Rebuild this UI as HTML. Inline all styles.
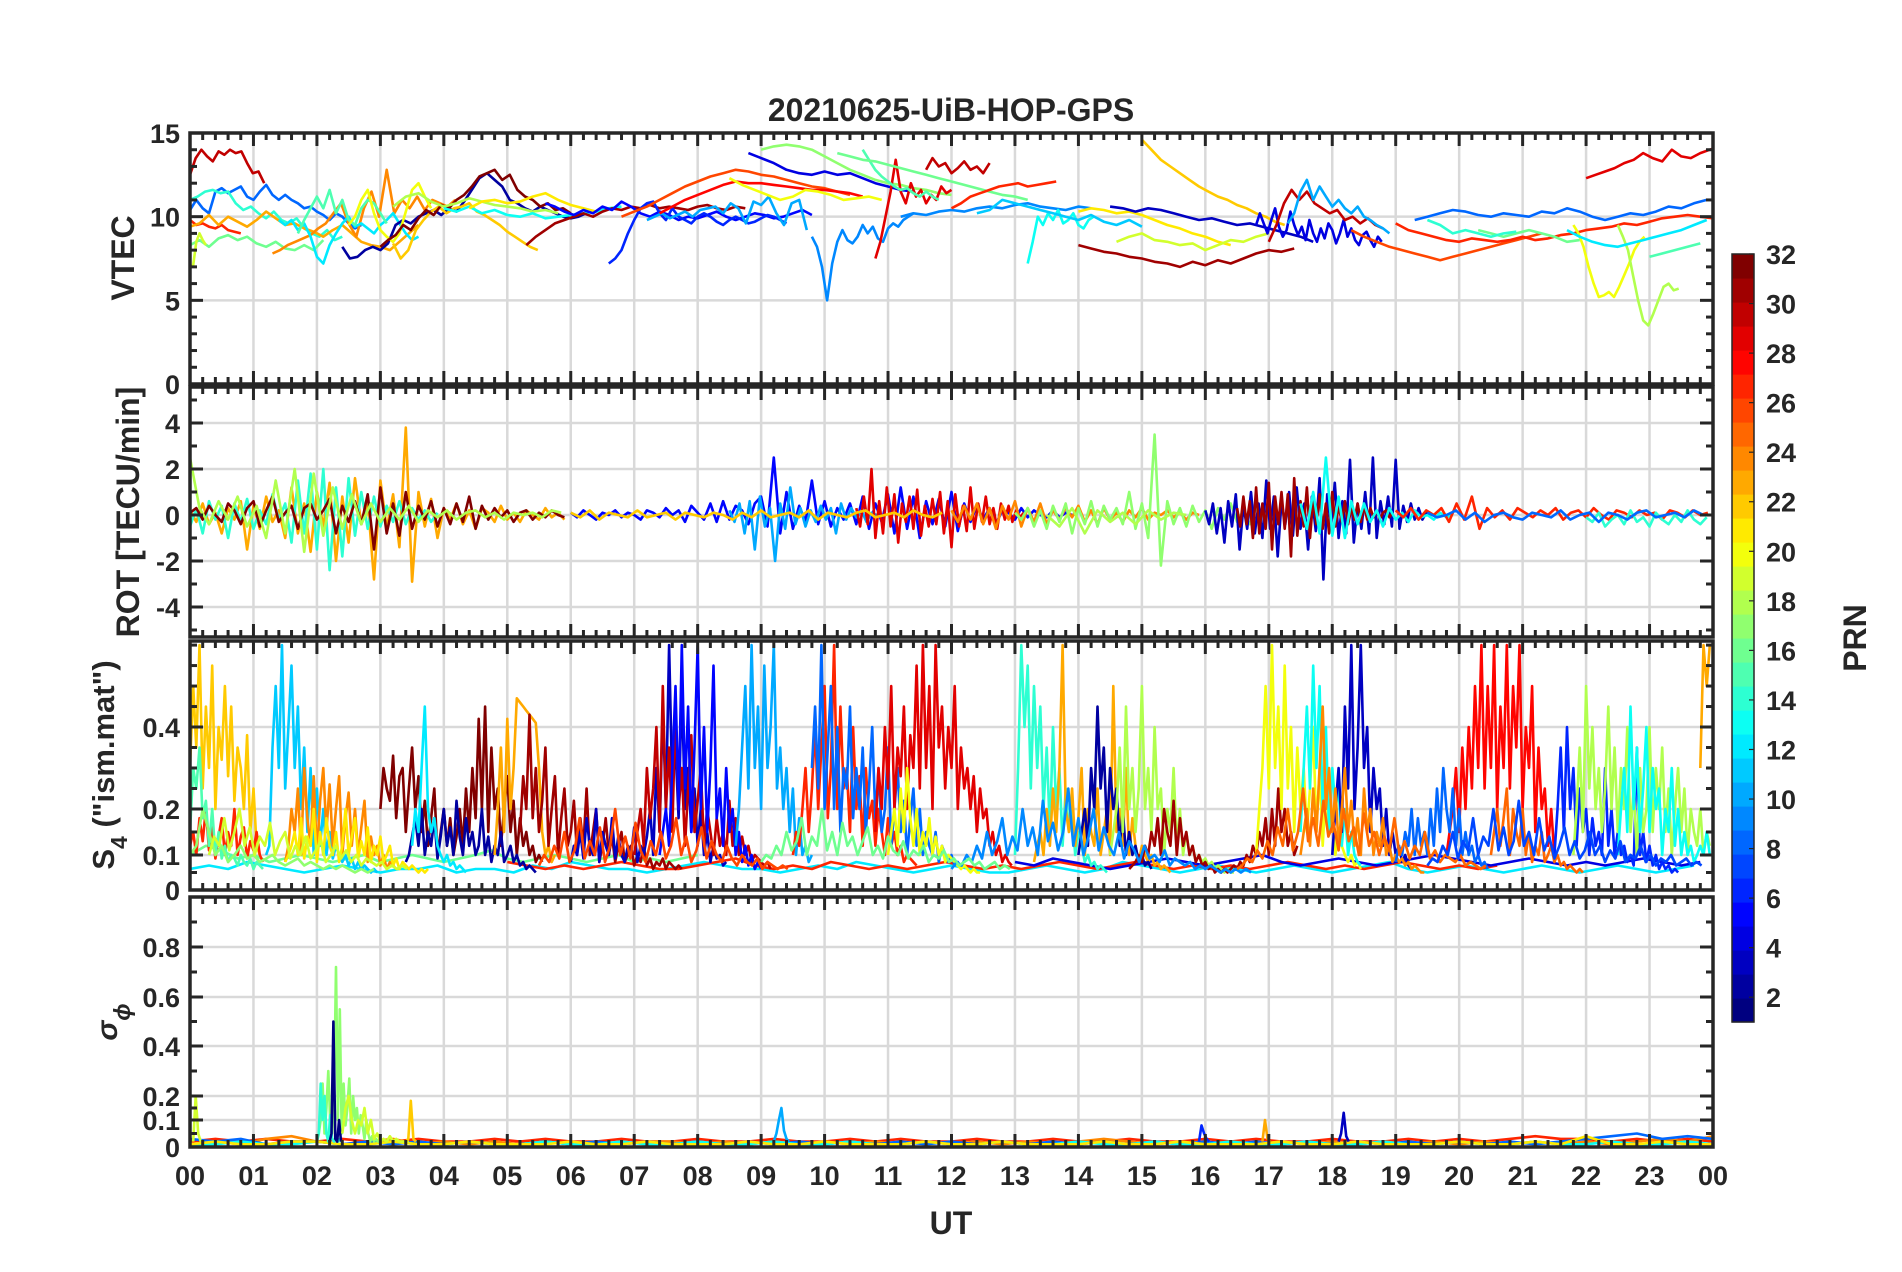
<!DOCTYPE html>
<html><head><meta charset="utf-8">
<style>
html,body{margin:0;padding:0;background:#fff;}
svg{display:block;}
text{font-family:"Liberation Sans",Arial,sans-serif;font-weight:bold;fill:#262626;}
</style></head>
<body>
<svg id="fig" width="1902" height="1272" viewBox="0 0 1902 1272" xmlns="http://www.w3.org/2000/svg">
<rect x="0" y="0" width="1902" height="1272" fill="#fff"/>
<text x="951" y="121" text-anchor="middle" font-size="32">20210625-UiB-HOP-GPS</text>
<text x="951" y="1234" text-anchor="middle" font-size="32">UT</text>
<text transform="translate(134,258) rotate(-90)" text-anchor="middle" font-size="32">VTEC</text>
<text transform="translate(139,512) rotate(-90)" text-anchor="middle" font-size="32">ROT [TECU/min]</text>
<text transform="translate(114,765) rotate(-90)" text-anchor="middle" font-size="31">S<tspan baseline-shift="sub" font-size="23">4</tspan> ("ism.mat")</text>
<text transform="translate(117,1022) rotate(-90)" text-anchor="middle" font-size="30" font-style="italic" font-weight="normal" font-family="Liberation Serif, serif">σ<tspan baseline-shift="sub" font-size="23">ϕ</tspan></text>
<text transform="translate(1866,638) rotate(-90)" text-anchor="middle" font-size="32">PRN</text>
</svg>
<script>
// ---------- VTEC data ----------
const vtecPrn=[30,8,14,16,19,27,23,24,12,15,2,20,22,32,18,13,21,31,5,6,10,26,28,20,17,4,9,9,29,30,15,16,27,13,11,22,31,21,3,19,4,30,10,8,26,27,29,20,18,12,15,16,14];
const vtecT0=[0,0,0,0,0,0,0,1.3,1.4,1.7,2.4,2.5,3.2,3.0,3.2,4.0,4.4,5.3,5.6,6.6,7.2,6.8,7.4,8.5,9.0,8.8,9.8,11.2,10.8,11.6,10.6,10.2,12.0,13.2,12.4,15.0,14.0,14.0,14.5,14.6,16.8,17.0,17.3,19.3,18.3,19.0,22.0,21.8,22.5,21.7,23.0,20.3,19.5];
const vtecDt=[0.09,0.1,0.12,0.15,0.05,0.1,0.15,0.12,0.1,0.1,0.12,0.1,0.12,0.12,0.2,0.2,0.2,0.15,0.15,0.1,0.12,0.2,0.2,0.2,0.2,0.2,0.08,0.2,0.08,0.1,0.1,0.2,0.15,0.08,0.2,0.15,0.2,0.2,0.2,0.2,0.06,0.12,0.1,0.2,0.2,0.2,0.15,0.08,0.08,0.2,0.2,0.2,0.2];
const vtecVals=[
[12.5,13.5,14.0,13.6,13.3,13.9,13.7,14.0,13.8,13.9,13.2,12.6,12.7,12.0],
[10.4,11.0,10.5,10.2,11.5,11.7,11.4,11.6,11.8,11.2,11.0,11.5,11.9,11.3,11.0,11.3,11.0,10.8,10.5,10.6,10.3,10.1,9.8,10.2,10.0,9.6,9.3,9.5],
[11.0,11.2,11.5,11.6,11.4,11.5,10.8,10.4,10.6,10.2,9.9,10.3,9.8,9.6,9.9,9.3,9.0,8.8,9.2,8.6,8.8],
[8.3,8.6,8.2,8.7,8.9,8.6,8.8,8.4,8.2,8.5,8.1,8.0,8.3,8.0,8.6],
[7.0,7.1,8.5,9.0,8.6,8.3],
[9.8,9.5,9.6,9.4,9.3,9.5,9.2,9.1,9.0],
[9.4,9.6,10.1,9.5,10.0,9.7,9.4,9.8,10.3,9.9,9.5,9.6,9.3,9.1,8.8,9.2,9.5,9.0,8.5,8.3,8.2,8.0,8.5,9.0,9.5],
[7.8,8.0,8.3,8.5,8.7,8.9,9.3,9.6,10.2,10.8,9.6,8.8,10.5,11.5,10.0,12.8,10.2,11.0,10.5,11.2,10.4,11.0,10.8,10.6,11.0],
[9.8,9.5,9.8,9.2,9.6,8.8,7.6,7.2,8.3,9.0,9.6,10.0,9.4,9.6,9.3,9.0,9.5,9.8,10.2,9.6,9.0,8.6,8.8],
[9.0,9.8,10.5,11.2,10.5,11.6,10.2,11.0,9.8,9.5,10.5,11.0,10.8,10.2,9.6],
[8.2,7.5,7.6,8.0,8.2,8.0,8.4,9.5,9.8,9.6,10.0,10.2,10.4,10.1,10.5,10.3,10.9,11.6,12.3,12.6,12.2,11.8,11.0,10.8,10.5,10.3,10.6,10.4,10.2,10.0,9.9,10.0,10.2],
[9.5,10.0,11.0,11.6,10.2,9.2,8.8,8.5,9.0,10.3,11.6,12.0,11.2,10.5],
[8.4,7.5,8.0,9.2,9.8,10.3,10.6,10.2,10.5,10.6,10.8,10.3,10.1,9.8,9.5,9.1,8.8,8.5,8.2,8.0],
[8.2,8.6,8.9,9.5,9.2,9.9,10.4,10.1,10.7,10.5,11.0,11.3,11.8,12.4,12.6,12.8,12.2,12.5,11.6,11.2,11.0,10.6,10.8,10.4,10.5,10.2],
[10.6,11.2,11.4,10.9,10.6,10.8,11.1,10.9,10.7,10.6,10.5,10.3,10.4,10.2],
[10.5,10.3,10.6,10.2,10.4,10.1,10.0,10.2,9.9,10.0,10.1,10.2,10.3,10.5,10.6],
[10.5,10.9,11.0,10.8,10.9,11.2,11.4,11.0,10.7,10.5,10.3],
[8.3,8.8,9.2,9.6,9.8,10.0,10.2,10.0,10.3,10.5,10.4,10.6,10.5,10.7,10.5,10.6,10.5,10.4,10.6,10.7,10.5,10.4,10.6,10.5],
[10.8,10.6,10.3,10.1,10.4,10.2,10.6,10.4,10.9,10.6,10.2,10.0,10.3,10.1,9.8,10.0,9.9,10.1,10.3,10.0,9.8,10.0,10.2,10.1,9.9,10.0,10.2,10.4,10.1],
[7.2,7.5,8.0,9.0,9.8,10.5,10.8,10.9,10.2,9.8,10.5,10.0,9.8,9.6,10.0,10.2,10.0,9.7,9.5,9.8,10.0,9.8,9.6,9.7,9.9,10.1,10.0,9.8,9.6],
[9.8,10.0,10.2,9.9,10.1,10.3,10.0,10.4,10.5,10.6,10.2,10.8,10.5,9.6,10.9,10.7,11.2,10.2,9.5,10.8,11.0,9.2],
[10.0,10.3,10.6,11.0,11.4,11.8,12.1,12.4,12.6,12.8,12.7,12.5,12.4,12.2,12.0,11.8,11.7,11.5,11.3],
[10.2,10.6,11.0,11.3,11.6,11.9,12.1,12.0,12.0,11.9,11.8,11.7,11.6,11.6,11.5,11.4,11.2],
[12.3,11.9,11.6,11.3,11.0,11.2,11.6,11.5,11.3,11.0,11.1,11.2,11.0],
[14.0,14.2,14.3,14.2,14.0,13.6,13.2,12.8,12.5,12.2,12.0,11.9,11.7,11.6,11.4,11.3],
[13.8,13.5,13.2,12.8,12.6,12.5,12.7,12.5,12.6,12.3,12.0,11.8,11.6,11.5],
[8.8,8.2,7.0,5.0,7.2,8.5,9.2,8.6,8.4,8.8,9.5,9.0,9.4,8.7,8.5,9.3,9.6,9.4,9.8,10.0,10.2],
[10.0,10.2,10.1,10.3,10.4,10.3,10.5,10.6,10.5,10.7,10.8,10.6,10.5,10.4,10.6,10.5],
[7.5,8.5,10.0,11.5,13.4,11.5,10.8,12.0,11.2,11.6,10.8,11.3,11.0,11.8,11.4,11.6],
[12.8,13.5,13.0,13.2,12.6,12.9,13.3,12.8,13.0,12.6,13.2],
[14.0,13.4,12.8,12.4,12.1,11.8,11.6,11.7,11.4,11.2,11.5,11.2,11.0],
[13.8,13.6,13.4,13.3,13.1,12.9,12.7,12.5,12.3,12.1,11.9,11.7,11.5,11.3,11.2,11.0],
[10.5,10.8,11.2,11.4,11.6,11.8,11.9,12.0,11.8,11.9,12.0,12.1],
[7.2,8.5,10.0,9.5,10.2,9.8,10.4,9.6,9.8,10.2,9.5,9.3,9.8,10.0],
[10.2,10.4,11.0,10.8,10.6,10.4,10.2,10.0,9.8,10.1,9.7,9.5,9.8,9.4],
[14.6,14.0,13.4,13.0,12.6,12.2,11.8,11.5,11.2,11.0,10.7,10.5,10.2,10.0,9.7,9.5],
[8.3,8.1,7.9,7.8,7.6,7.5,7.3,7.2,7.0,7.3,7.1,7.4,7.2,7.5,7.8,8.0,7.9,8.1],
[10.3,10.5,10.4,10.2,10.3,10.1,9.8,9.5,9.3,9.0,8.8,8.5,8.3],
[10.6,10.5,10.3,10.5,10.4,10.2,10.0,9.8,9.9,9.7,9.5,9.6,9.4,9.2,9.0,8.8,8.5],
[8.5,8.8,9.0,8.6,8.5,8.3,8.4,8.0,8.3,8.6,8.5,8.8,9.0],
[9.5,10.2,9.6,9.0,9.8,10.5,9.4,8.8,9.2,10.3,9.5,8.9,9.4,8.6,9.8,9.0,8.5,9.3,8.7,9.6,9.2,8.4,9.0,9.8,8.8,9.3,8.6,8.3,8.9,9.1,8.6,8.2,8.8,8.5],
[8.5,9.5,10.8,11.6,11.0,11.5,10.8,10.5,10.2,10.4,9.8,10.0,9.6,9.9,9.5,9.3],
[9.6,10.2,11.5,12.2,11.0,11.8,11.2,10.6,11.0,10.5,10.2,10.6,10.0,9.8,9.5,9.3,9.0],
[9.8,10.0,10.2,10.4,10.3,10.1,10.0,10.2,10.1,10.0,10.3,10.2,10.5,10.3,10.0,9.8,10.0,10.2,10.1,10.3,10.6,10.5,10.8,11.0],
[9.2,8.8,8.5,8.2,8.0,7.8,7.6,7.4,7.6,7.8,8.0,8.2,8.4,8.6,8.8,9.0],
[9.6,9.2,9.0,8.8,8.6,8.5,8.7,8.6,8.5,8.6,8.8,8.6,8.7,8.9,9.0,9.2,9.3,9.4,9.6,9.5,9.7,9.9,10.0,10.1,10.0,9.9],
[12.3,12.5,12.7,12.9,13.2,13.4,13.8,13.5,13.3,14.0,13.6,13.5,13.8,14.0,14.2],
[9.5,9.0,8.2,7.0,6.0,5.2,5.3,5.5,5.2,5.8,6.5,7.2,8.0,8.5,8.8],
[9.5,8.8,8.0,6.5,5.0,3.8,3.5,4.2,5.0,5.8,6.0,5.6,5.7],
[9.2,8.8,8.5,8.3,8.2,8.4,8.6,8.8,9.0,9.2,9.5,9.8],
[7.6,7.8,8.0,8.2,8.4],
[9.2,9.0,8.8,9.0,9.2,9.0,8.8,8.5,8.6],
[9.8,9.5,9.0,9.2,9.0,8.8,9.0,9.1]
];
// ---------- ROT data ----------
const rotPrn=[23,14,32,18,5,10,29,24,17,3,31,13,27,14,8,22,18];
const rotT0=[0,0,0,0,6,8.5,10.5,12,13,16,16.5,17.5,19,22,19.5,6,13.5];
const rotDt=[0.1,0.1,0.1,0.15,0.1,0.08,0.06,0.1,0.1,0.06,0.05,0.1,0.12,0.1,0.15,0.15,0.2];
const rotVals=[
[0.2,-0.3,0.5,-0.4,0.1,-0.8,0.3,-0.2,0.6,-1.5,0.4,-0.6,0.8,-0.3,0.2,-1.0,1.2,-0.8,0.5,-1.6,1.0,-0.5,1.4,-2.0,0.8,-1.2,1.6,-0.4,0.6,-2.8,1.5,-0.6,0.9,-1.4,3.8,-2.9,1.0,-0.5,0.7,-1.0,0.3,-0.2,0.5,-0.4,0.2,-0.6,0.3,0.1,-0.3,0.4,-0.2,0.1,-0.3,0.2,0.0,-0.2,0.3,-0.1,0.1,-0.2],
[-0.5,0.3,-0.8,0.6,-0.2,0.4,-1.0,0.5,-0.3,0.7,-0.6,0.2,-0.4,0.9,-0.2,0.5,-1.2,1.5,-0.8,1.8,-1.5,2.0,-2.4,1.2,-1.8,1.6,-0.9,1.0,-0.6,0.8,-0.5,0.4,-0.3,0.6,-0.4,0.3,-0.2,0.2,-0.3,0.1],
[0.1,0.3,-0.2,0.4,0.0,-0.3,0.5,0.2,-0.4,0.3,0.6,-0.5,0.2,0.8,-0.3,0.1,0.4,-0.6,0.3,0.5,-0.2,0.2,0.7,-0.8,0.4,-0.3,0.6,-0.4,0.9,-1.5,1.2,-0.8,0.5,-0.9,1.0,-0.6,0.4,-0.2,0.6,-0.5,0.3,-0.4,0.5,-0.3,0.8,-0.6,0.4,-0.2,0.3,-0.1,0.2,-0.3,0.1,0.2,-0.2,0.1,-0.1,0.2,0.0,-0.1],
[2.5,0.3,-0.4,0.6,-0.2,0.8,-0.5,0.4,-1.0,1.5,-0.8,2.0,-1.6,1.8,-0.9,1.2,-0.6,0.9,-0.4,0.5,-0.3,0.3,-0.2,0.4,-0.3,0.2,-0.1,0.2,-0.2,0.1,0.2,-0.1,0.1,-0.2,0.1,0.0,0.1,-0.1,0.2,0.1],
[0.1,-0.1,0.2,0.0,-0.2,0.1,0.0,0.2,-0.1,0.1,0.0,-0.2,0.2,0.1,-0.1,0.3,0.0,0.2,-0.3,0.4,0.1,-0.2,0.5,-0.3,0.6,-0.2,0.4,0.2,-0.4,0.5,0.8,-0.5,2.5,-0.8,1.0,-0.6,0.4,-0.3,1.5,-0.4,0.6,-0.5,0.3,-0.2,0.5,-0.4,0.8,-0.6,0.5,-0.3,0.9,-0.8,1.2,-0.6,0.8,-1.0,0.6,-0.4,0.7,-0.5,1.0,-0.7,0.5,-0.3,0.4,-0.2,0.3,-0.4,0.2,0.1,-0.2,0.3,-0.1,0.2,0.0,-0.1,0.2,-0.1,0.1,0.0],
[0.2,-0.3,0.5,-0.8,0.6,-1.5,0.8,-0.5,0.3,-2.0,0.5,-0.6,1.2,-0.4,0.3,-0.5,0.2,-0.3,0.4,-0.2,0.3,-0.8,0.5,-0.2,0.3,-0.1,0.2,-0.3,0.1,0.0],
[0.3,-0.5,0.8,-0.4,2.0,-1.0,0.6,-0.8,1.2,-0.5,0.9,-1.2,0.5,-0.3,0.8,-0.6,1.1,-0.9,0.4,-0.5,0.7,-0.4,1.0,-0.8,0.6,-1.4,0.9,-0.5,0.4,-0.7,1.2,-0.6,0.5,-0.3,0.8,-0.4,0.3,-0.6,0.5,-0.2,0.4,-0.3,0.2,-0.1,0.1],
[0.2,-0.3,0.4,-0.2,0.5,-0.4,0.3,-0.6,0.4,-0.2,0.6,-0.5,0.3,-0.3,0.5,-0.4,0.2,-0.2,0.3,-0.1,0.4,-0.3,0.2,-0.4,0.3,-0.2,0.1,-0.3,0.2,-0.1,0.3,-0.2,0.1,0.0,0.2,-0.1,0.1,-0.2,0.1,0.0],
[0.1,-0.2,0.3,-0.5,0.2,-0.6,0.4,-0.3,0.5,-0.8,0.3,-0.4,0.6,-0.5,0.4,-0.2,0.3,-0.4,1.0,-0.6,0.5,-1.0,3.5,-2.2,0.6,-0.4,0.3,-0.5,0.4,-0.3,0.2,-0.6,0.3,-0.2,0.5,-0.3,0.2,-0.4,0.3,-0.1],
[0.2,-0.4,0.5,-0.8,0.3,-1.2,0.6,-0.5,0.9,-1.5,0.4,-0.6,1.0,-0.8,0.5,-1.0,1.5,-0.6,0.8,-1.8,0.6,-0.4,1.0,-0.9,1.2,-0.6,0.5,-1.5,0.8,-0.7,1.6,-2.8,0.9,-0.5,1.4,-1.0,0.6,-0.8,2.4,-1.2,0.5,-0.6,1.0,-0.8,2.5,-1.0,0.6,-0.4,0.8,-0.5,2.4,-0.6,0.4,-0.3,0.5,-0.2,0.3,-0.2,0.1,0.0],
[0.3,-0.5,0.8,-0.4,0.6,-1.0,1.2,-0.8,0.5,-0.6,1.4,-1.5,0.8,-0.4,1.0,-0.6,0.9,-1.8,1.6,-0.9,0.6,-0.5,1.2,-1.0,0.7,-0.4,0.9,-0.6,0.5,-0.8,1.0,-0.5,0.4,-0.3,0.6,-0.4,0.3,-0.2,0.5,-0.3,0.4,-0.2,0.3,-0.1,0.2,-0.2,0.1,0.2,-0.1,0.1],
[0.5,-0.6,1.0,-0.8,2.5,-0.9,0.8,-1.0,0.6,-0.4,0.5,-0.3,0.2,-0.5,0.3,-0.2,0.1,-0.3,0.2,-0.1,0.0,-0.2,0.1,-0.1,0.0],
[0.2,-0.1,0.3,-0.2,0.2,0.0,0.3,-0.3,0.5,-0.2,0.8,-0.6,0.3,-0.1,0.2,-0.2,0.3,0.1,-0.1,0.2,0.0,0.3,-0.2,0.1,0.2,-0.1,0.3,0.0,-0.2,0.2,0.1,-0.1,0.2,0.0,0.1,-0.2,0.2,0.1,-0.1,0.2,0.0,0.1],
[-0.1,-0.3,0.1,-0.5,-0.2,0.0,-0.4,0.2,-0.3,-0.1,-0.5,0.1,-0.2,-0.4,0.0,-0.3,0.2,-0.2,-0.4,-0.1],
[0.1,-0.1,0.0,0.2,-0.2,0.1,-0.3,0.0,0.1,-0.1,-0.2,0.1,0.0,-0.1,0.2,-0.2,0.0,0.1,-0.3,0.1,0.0,-0.2,0.1,0.2,-0.1,0.0,0.1,-0.1,0.2,0.0],
[0.1,-0.1,0.2,-0.2,0.1,0.0,-0.1,0.2,-0.1,0.0,0.1,-0.2,0.1,0.0,-0.1,0.1,0.0,-0.2,0.1,-0.1,0.2,-0.1,0.0,0.1,-0.1,0.2,-0.2,0.1,0.0,-0.1,0.1,0.2,-0.1,0.0,0.1,-0.1,0.2,0.0,-0.1,0.1],
[0.0,-0.5,0.3,-0.8,0.2,-0.3,0.1,-0.4,0.2,-0.2,0.1,0.0]
];
// ---------- S4 data ----------
const s4Prn=[12,27,4,16,22,27,15,11,24,21,32,2,12,23,31,3,30,5,10,27,8,29,20,14,23,2,18,31,20,13,3,24,28,8,25,6,18,13,23,17,26,9,16,25,7,19];
const s4T0=[0,5,13,0,0,0,0,1.2,1.5,1.5,3.0,3.4,3.5,4.8,5.2,6.0,7.0,7.4,8.6,9.5,9.8,10.8,11.0,13.0,13.3,14.0,14.5,14.8,16.8,17.5,18.0,17.5,19.8,19.0,20.5,21.5,21.8,22.5,23.8,0,5.5,12.0,9.0,16.5,19.5,0.3];
const s4Dt=[0.3,0.3,0.3,0.25,0.05,0.05,0.05,0.05,0.05,0.05,0.05,0.05,0.05,0.05,0.05,0.05,0.05,0.05,0.05,0.05,0.05,0.05,0.05,0.05,0.05,0.05,0.05,0.05,0.05,0.05,0.05,0.05,0.05,0.05,0.05,0.05,0.05,0.05,0.05,0.1,0.08,0.08,0.08,0.08,0.08,0.08];
const s4Vals=[
[0.06,0.07,0.06,0.08,0.07,0.06,0.05,0.06,0.07,0.06,0.05,0.06,0.06,0.07,0.05,0.06,0.06,0.05,0.07,0.06,0.08,0.07,0.06,0.06,0.05,0.06,0.07,0.08,0.07,0.06,0.06,0.05,0.06,0.07,0.06,0.08,0.07,0.06,0.05,0.06,0.07,0.06,0.05,0.05,0.06,0.07,0.06,0.05,0.06,0.08,0.07,0.06,0.05,0.06,0.07,0.06,0.05,0.06,0.07,0.06,0.05,0.06,0.07,0.08,0.06,0.05,0.06,0.07,0.06,0.05,0.06,0.07,0.06,0.05,0.06,0.07,0.06,0.05,0.06,0.07],
[0.08,0.07,0.06,0.07,0.06,0.07,0.08,0.07,0.06,0.06,0.07,0.08,0.09,0.07,0.06,0.07,0.06,0.08,0.07,0.06,0.07,0.06,0.07,0.08,0.07,0.06,0.07,0.06,0.07,0.08,0.07,0.06,0.07,0.08,0.07,0.06,0.07,0.06,0.07,0.06,0.07,0.08,0.07,0.06,0.07,0.06,0.07,0.08,0.07,0.06,0.07,0.06,0.07],
[0.08,0.07,0.09,0.08,0.07,0.06,0.07,0.08,0.09,0.08,0.07,0.08,0.09,0.1,0.08,0.07,0.08,0.09,0.08,0.07,0.08,0.09,0.1,0.09,0.08,0.07,0.08,0.09,0.08,0.07,0.08,0.07,0.08,0.09,0.08,0.07,0.08],
[0.1,0.12,0.11,0.09,0.1,0.08,0.09,0.1,0.09,0.08,0.09,0.1,0.08,0.09,0.1,0.09,0.08,0.09,0.1,0.11,0.09,0.08,0.09,0.1,0.09,0.08,0.09,0.1,0.08,0.09,0.08,0.09,0.1],
[0.3,0.5,0.35,0.6,0.25,0.45,0.3,0.55,0.2,0.4,0.32,0.5,0.28,0.45,0.22,0.35,0.3,0.2,0.38,0.15,0.25,0.12,0.1],
[0.12,0.15,0.1,0.18,0.13,0.2,0.11,0.16,0.09,0.14,0.18,0.1,0.15,0.12,0.2,0.1,0.14,0.16,0.09,0.13,0.11,0.15,0.1,0.08],
[0.15,0.3,0.25,0.35,0.18,0.22,0.12,0.2,0.1,0.15,0.09,0.12,0.08,0.1,0.09,0.07,0.1,0.08,0.07,0.09,0.06,0.08,0.07,0.06],
[0.1,0.12,0.35,0.5,0.3,0.6,0.25,0.4,0.55,0.3,0.45,0.2,0.35,0.15,0.3,0.1,0.25,0.12,0.2,0.1,0.15,0.09,0.12,0.1,0.08,0.1,0.07,0.09,0.06,0.08,0.06,0.07,0.06,0.05,0.06,0.05],
[0.08,0.12,0.2,0.15,0.25,0.1,0.3,0.18,0.12,0.28,0.1,0.22,0.3,0.15,0.26,0.12,0.2,0.28,0.1,0.18,0.24,0.12,0.2,0.1,0.16,0.22,0.08,0.14,0.1,0.12,0.07,0.1,0.06,0.08,0.07,0.06],
[0.08,0.1,0.12,0.15,0.1,0.18,0.09,0.14,0.12,0.2,0.08,0.15,0.1,0.18,0.12,0.1,0.15,0.08,0.12,0.2,0.1,0.14,0.18,0.09,0.13,0.1,0.16,0.08,0.12,0.1,0.14,0.08,0.1,0.12,0.07,0.09,0.06,0.08,0.07,0.06,0.07,0.06,0.05,0.06,0.05,0.06],
[0.2,0.3,0.25,0.22,0.33,0.18,0.28,0.3,0.15,0.25,0.35,0.2,0.28,0.15,0.22,0.12,0.18,0.25,0.1,0.15,0.2,0.12,0.18,0.1,0.14,0.2,0.12,0.25,0.15,0.3,0.18,0.42,0.2,0.45,0.15,0.35,0.2,0.25,0.12,0.2,0.28,0.15,0.22,0.1,0.18,0.12,0.15,0.1,0.12,0.08,0.1,0.08],
[0.08,0.1,0.14,0.18,0.12,0.2,0.1,0.15,0.12,0.18,0.09,0.14,0.2,0.12,0.16,0.1,0.22,0.14,0.1,0.18,0.12,0.15,0.1,0.12,0.2,0.1,0.14,0.08,0.12,0.1,0.15,0.08,0.1,0.12,0.08,0.1,0.07,0.08,0.06,0.07,0.06,0.05],
[0.12,0.2,0.15,0.3,0.45,0.2,0.15,0.18,0.12,0.1,0.08,0.1,0.07,0.08,0.06,0.07,0.06,0.05],
[0.1,0.2,0.35,0.15,0.42,0.2,0.3,0.47,0.46,0.45,0.44,0.43,0.42,0.41,0.3,0.15,0.1,0.12,0.08,0.1],
[0.15,0.28,0.2,0.43,0.18,0.3,0.15,0.22,0.35,0.12,0.2,0.28,0.1,0.18,0.25,0.12,0.15,0.22,0.1,0.18,0.12,0.25,0.1,0.15,0.2,0.08,0.12,0.18,0.1,0.14,0.08,0.12,0.15,0.08,0.1,0.12,0.07,0.1,0.08,0.12,0.07,0.09,0.06,0.08,0.07,0.09,0.06,0.08,0.07,0.06,0.07,0.06],
[0.08,0.12,0.1,0.15,0.09,0.18,0.12,0.1,0.2,0.08,0.15,0.12,0.1,0.18,0.09,0.14,0.1,0.08,0.12,0.1,0.16,0.08,0.12,0.1,0.14,0.2,0.1,0.3,0.15,0.45,0.2,0.6,0.25,0.35,0.18,0.5,0.2,0.3,0.15,0.25,0.12,0.2,0.1,0.15,0.08,0.12,0.09,0.1,0.07,0.08],
[0.1,0.15,0.2,0.12,0.3,0.18,0.25,0.4,0.15,0.5,0.2,0.35,0.15,0.45,0.2,0.3,0.12,0.25,0.38,0.15,0.22,0.3,0.12,0.2,0.15,0.1,0.18,0.12,0.15,0.1,0.22,0.12,0.18,0.1,0.14,0.1,0.12,0.08,0.1,0.09,0.08,0.07,0.08,0.06],
[0.1,0.15,0.2,0.12,0.3,0.5,0.2,0.6,0.25,0.45,0.15,0.35,0.6,0.2,0.4,0.15,0.3,0.55,0.18,0.25,0.12,0.3,0.15,0.2,0.1,0.15,0.08,0.12,0.07,0.1,0.06,0.08,0.06],
[0.12,0.2,0.35,0.5,0.25,0.6,0.3,0.45,0.2,0.55,0.3,0.4,0.6,0.25,0.35,0.2,0.3,0.15,0.25,0.1,0.18,0.1,0.12,0.08,0.1],
[0.1,0.15,0.12,0.2,0.3,0.15,0.25,0.4,0.2,0.35,0.5,0.18,0.3,0.6,0.2,0.45,0.25,0.3,0.15,0.4,0.2,0.28,0.12,0.3,0.18,0.22,0.12,0.2,0.15,0.1,0.18,0.12,0.15,0.1,0.12,0.08,0.1,0.09,0.08,0.07],
[0.3,0.45,0.25,0.6,0.2,0.35,0.5,0.2,0.4,0.15,0.3,0.25,0.45,0.18,0.3,0.2,0.35,0.15,0.25,0.4,0.18,0.3,0.15,0.2,0.35,0.12,0.2,0.3,0.15,0.22,0.1,0.18,0.25,0.12,0.2,0.1,0.15,0.12,0.1,0.15,0.08,0.12,0.1,0.08,0.1,0.07,0.08,0.06],
[0.15,0.3,0.2,0.4,0.25,0.5,0.2,0.35,0.28,0.45,0.2,0.38,0.3,0.55,0.25,0.6,0.3,0.5,0.2,0.6,0.35,0.45,0.25,0.4,0.3,0.5,0.2,0.35,0.25,0.3,0.2,0.28,0.15,0.25,0.18,0.2,0.12,0.15,0.1,0.12,0.08,0.1,0.08,0.07],
[0.1,0.15,0.2,0.12,0.25,0.15,0.3,0.18,0.12,0.2,0.1,0.15,0.12,0.18,0.1,0.14,0.1,0.12,0.08,0.1,0.09,0.08,0.07,0.06,0.07,0.06,0.05,0.06,0.05,0.05],
[0.1,0.3,0.6,0.4,0.55,0.25,0.5,0.3,0.45,0.2,0.35,0.15,0.4,0.2,0.3,0.12,0.25,0.15,0.2,0.1,0.15,0.12,0.08,0.1,0.07,0.08,0.06,0.07,0.06,0.05],
[0.08,0.12,0.15,0.1,0.2,0.12,0.25,0.15,0.3,0.6,0.2,0.15,0.25,0.12,0.18,0.3,0.1,0.2,0.15,0.12,0.25,0.1,0.15,0.2,0.1,0.5,0.15,0.2,0.12,0.3,0.1,0.18,0.12,0.08,0.12,0.1,0.08,0.1,0.07,0.08,0.06,0.07,0.06,0.05],
[0.1,0.15,0.2,0.12,0.3,0.2,0.45,0.25,0.35,0.15,0.3,0.2,0.25,0.12,0.2,0.1,0.15,0.1,0.12,0.08,0.1,0.07,0.08,0.06],
[0.1,0.15,0.2,0.35,0.15,0.45,0.2,0.3,0.15,0.25,0.5,0.2,0.3,0.15,0.4,0.2,0.25,0.1,0.2,0.15,0.3,0.12,0.2,0.1,0.15,0.1,0.12,0.08,0.1,0.08,0.09,0.07,0.08,0.06,0.07,0.06,0.05,0.06,0.05,0.05],
[0.06,0.07,0.08,0.1,0.08,0.12,0.1,0.15,0.12,0.18,0.1,0.2,0.15,0.12,0.22,0.1,0.18,0.12,0.15,0.1,0.12,0.08,0.1,0.07,0.08,0.06,0.07,0.05,0.06,0.05,0.06,0.05,0.06,0.07,0.06,0.08,0.07,0.1,0.08,0.12,0.1,0.15,0.12,0.18,0.1,0.2,0.12,0.25,0.15,0.2,0.12,0.15,0.1,0.12],
[0.1,0.2,0.3,0.5,0.25,0.6,0.3,0.45,0.2,0.55,0.25,0.4,0.15,0.35,0.2,0.3,0.15,0.25,0.4,0.15,0.3,0.12,0.25,0.15,0.2,0.1,0.15,0.12,0.1,0.08,0.1,0.07,0.08,0.06],
[0.15,0.3,0.45,0.25,0.55,0.3,0.5,0.2,0.4,0.15,0.3,0.2,0.25,0.12,0.2,0.1,0.15,0.1,0.08,0.07],
[0.1,0.2,0.3,0.15,0.45,0.25,0.6,0.2,0.35,0.6,0.3,0.4,0.15,0.3,0.2,0.25,0.12,0.2,0.1,0.15,0.1,0.12,0.08,0.1,0.07,0.06],
[0.1,0.15,0.2,0.12,0.25,0.15,0.3,0.45,0.2,0.3,0.15,0.25,0.12,0.2,0.3,0.15,0.22,0.12,0.18,0.1,0.25,0.15,0.2,0.1,0.15,0.12,0.18,0.1,0.12,0.08,0.1,0.08,0.09,0.07,0.08,0.06,0.07,0.06,0.05,0.05],
[0.1,0.15,0.2,0.3,0.15,0.35,0.2,0.4,0.25,0.5,0.3,0.6,0.25,0.5,0.3,0.6,0.2,0.45,0.3,0.6,0.25,0.5,0.35,0.6,0.2,0.4,0.3,0.5,0.15,0.35,0.2,0.25,0.12,0.2,0.1],
[0.08,0.12,0.1,0.15,0.12,0.2,0.1,0.18,0.12,0.15,0.1,0.2,0.12,0.25,0.15,0.3,0.2,0.15,0.25,0.12,0.2,0.1,0.15,0.1,0.12,0.08,0.1,0.07,0.08,0.06],
[0.1,0.15,0.2,0.12,0.18,0.25,0.1,0.2,0.15,0.12,0.2,0.1,0.15,0.08,0.12,0.1,0.15,0.08,0.1,0.12,0.08,0.1,0.07,0.08,0.06,0.07,0.06,0.05,0.06,0.05],
[0.1,0.2,0.35,0.15,0.4,0.2,0.3,0.12,0.25,0.15,0.2,0.1,0.18,0.12,0.15,0.1,0.3,0.12,0.2,0.1,0.15,0.1,0.12,0.08,0.1,0.07,0.35,0.1,0.15,0.08,0.12,0.07,0.1,0.06,0.08,0.06,0.07,0.05,0.06,0.05],
[0.1,0.2,0.35,0.15,0.5,0.25,0.4,0.2,0.3,0.15,0.25,0.45,0.2,0.35,0.15,0.3,0.2,0.4,0.15,0.25,0.1,0.3,0.15,0.2,0.4,0.15,0.3,0.2,0.35,0.15,0.25,0.1,0.2,0.3,0.15,0.25,0.1,0.2,0.15,0.12,0.2,0.1,0.15,0.12],
[0.1,0.2,0.3,0.15,0.45,0.2,0.35,0.15,0.25,0.4,0.15,0.3,0.2,0.25,0.1,0.2,0.15,0.3,0.12,0.2,0.1,0.15,0.1,0.12,0.08,0.1,0.12,0.1,0.15,0.1],
[0.3,0.6,0.5,0.6,0.6],
[0.1,0.12,0.2,0.15,0.1,0.12,0.08,0.1,0.12,0.09,0.1,0.08,0.09,0.1,0.08,0.07,0.08,0.09,0.07,0.08,0.07,0.06,0.07,0.06,0.07,0.06,0.05,0.06,0.05,0.06],
[0.07,0.1,0.08,0.12,0.09,0.15,0.08,0.11,0.18,0.09,0.13,0.1,0.16,0.08,0.12,0.2,0.1,0.14,0.09,0.17,0.11,0.08,0.13,0.1,0.15,0.09,0.12,0.18,0.1,0.14,0.08,0.11,0.16,0.09,0.13,0.1,0.08,0.12,0.09,0.07,0.1,0.08,0.07,0.09,0.06,0.08,0.07,0.06,0.07,0.06],
[0.06,0.08,0.07,0.1,0.08,0.12,0.09,0.15,0.1,0.13,0.18,0.1,0.14,0.11,0.2,0.12,0.16,0.1,0.22,0.13,0.17,0.11,0.15,0.25,0.12,0.18,0.1,0.14,0.2,0.11,0.16,0.12,0.1,0.15,0.09,0.13,0.11,0.08,0.12,0.09,0.1,0.08,0.11,0.07,0.09,0.08,0.07,0.08,0.06,0.07,0.06,0.07,0.06,0.05,0.06,0.05,0.06,0.05,0.06,0.05],
[0.08,0.1,0.09,0.12,0.1,0.15,0.11,0.13,0.18,0.1,0.14,0.12,0.2,0.11,0.15,0.1,0.17,0.12,0.14,0.1,0.13,0.16,0.1,0.12,0.09,0.14,0.11,0.1,0.13,0.09,0.11,0.1,0.12,0.08,0.1,0.09,0.11,0.08,0.09,0.07,0.08,0.09,0.07,0.08,0.06,0.07,0.08,0.06,0.07,0.06],
[0.06,0.07,0.09,0.08,0.11,0.09,0.13,0.1,0.16,0.12,0.2,0.11,0.15,0.25,0.13,0.18,0.12,0.22,0.14,0.17,0.11,0.2,0.13,0.16,0.1,0.19,0.12,0.15,0.1,0.14,0.11,0.18,0.1,0.13,0.09,0.12,0.1,0.15,0.09,0.11,0.08,0.1,0.09,0.08,0.1,0.07,0.08,0.07,0.06,0.07],
[0.07,0.09,0.08,0.12,0.1,0.15,0.09,0.13,0.11,0.18,0.1,0.14,0.12,0.2,0.11,0.16,0.1,0.13,0.22,0.12,0.15,0.1,0.18,0.11,0.14,0.09,0.12,0.16,0.1,0.13,0.09,0.11,0.15,0.1,0.12,0.08,0.11,0.09,0.13,0.08,0.1,0.09,0.12,0.08,0.1,0.07,0.09,0.08,0.1,0.07,0.08,0.09,0.07,0.08,0.07],
[0.1,0.14,0.12,0.18,0.11,0.15,0.2,0.12,0.16,0.1,0.14,0.12,0.17,0.1,0.13,0.15,0.09,0.12,0.1,0.14,0.09,0.11,0.13,0.08,0.1,0.12,0.09,0.11,0.08,0.1,0.07,0.09,0.08,0.07,0.08,0.06,0.07,0.06,0.07,0.06]
];
// ---------- sigma-phi data ----------
const sigPrn=[27,24,8,13,21,17,14,1,19,19,22,10,6,3,23];
const sigT0=[0,0,0,0,0,2.0,2.0,2.2,2.4,0.05,3.4,9.2,15.9,18.1,16.9];
const sigDt=[0.4,0.4,0.4,0.4,0.4,0.03,0.03,0.03,0.05,0.04,0.04,0.04,0.04,0.04,0.04];
const sigVals=[
[0.02,0.03,0.02,0.03,0.02,0.02,0.03,0.02,0.02,0.03,0.02,0.02,0.03,0.02,0.03,0.02,0.02,0.03,0.02,0.02,0.03,0.02,0.02,0.03,0.02,0.02,0.03,0.02,0.03,0.02,0.02,0.03,0.02,0.02,0.03,0.02,0.02,0.03,0.02,0.02,0.03,0.02,0.03,0.02,0.02,0.03,0.02,0.02,0.03,0.02,0.03,0.02,0.03,0.04,0.03,0.03,0.02,0.03,0.02,0.03,0.02],
[0.01,0.02,0.01,0.03,0.04,0.02,0.01,0.02,0.03,0.01,0.02,0.01,0.02,0.01,0.02,0.01,0.02,0.01,0.02,0.02,0.01,0.02,0.01,0.02,0.01,0.02,0.01,0.02,0.01,0.02,0.01,0.02,0.01,0.02,0.01,0.02,0.03,0.02,0.01,0.02,0.01,0.02,0.01,0.02,0.01,0.02,0.01,0.02,0.01,0.02,0.01,0.02,0.01,0.02,0.01,0.02,0.01,0.02,0.03,0.02,0.04],
[0.03,0.02,0.03,0.01,0.02,0.02,0.01,0.02,0.01,0.02,0.01,0.02,0.01,0.01,0.02,0.01,0.02,0.01,0.02,0.01,0.02,0.01,0.02,0.01,0.02,0.01,0.02,0.01,0.02,0.01,0.02,0.01,0.02,0.01,0.02,0.01,0.02,0.01,0.02,0.01,0.02,0.01,0.02,0.01,0.02,0.01,0.02,0.01,0.02,0.01,0.02,0.01,0.02,0.01,0.02,0.03,0.04,0.05,0.03,0.04,0.03],
[0.01,0.01,0.02,0.01,0.01,0.02,0.01,0.01,0.02,0.01,0.01,0.02,0.01,0.01,0.02,0.01,0.01,0.02,0.01,0.01,0.02,0.01,0.01,0.02,0.01,0.01,0.02,0.01,0.01,0.02,0.01,0.01,0.02,0.01,0.01,0.02,0.01,0.01,0.02,0.01,0.01,0.02,0.01,0.01,0.02,0.01,0.01,0.02,0.01,0.01,0.02,0.01,0.01,0.02,0.01,0.01,0.02,0.01,0.01,0.02,0.01],
[0.01,0.02,0.01,0.01,0.02,0.02,0.01,0.01,0.02,0.01,0.01,0.02,0.01,0.01,0.01,0.02,0.01,0.01,0.02,0.01,0.01,0.01,0.02,0.01,0.01,0.02,0.01,0.01,0.01,0.02,0.01,0.01,0.02,0.01,0.01,0.01,0.02,0.01,0.01,0.02,0.01,0.01,0.01,0.02,0.01,0.01,0.02,0.01,0.01,0.01,0.02,0.01,0.01,0.02,0.01,0.04,0.01,0.01,0.02,0.01,0.01],
[0.02,0.05,0.1,0.25,0.05,0.15,0.3,0.1,0.05,0.2,0.72,0.1,0.55,0.05,0.25,0.08,0.15,0.27,0.05,0.2,0.1,0.15,0.05,0.12,0.08,0.03,0.1,0.05,0.02,0.04,0.02,0.03,0.02,0.02],
[0.02,0.05,0.25,0.1,0.2,0.05,0.02,0.12,0.03,0.02,0.04,0.02,0.03,0.02],
[0.02,0.05,0.5,0.03,0.02,0.1,0.02],
[0.05,0.15,0.2,0.1,0.05,0.1,0.08,0.15,0.05,0.1,0.03,0.05,0.02,0.03,0.02,0.04,0.02,0.03,0.02,0.02,0.02,0.02],
[0.02,0.2,0.05,0.02],
[0.02,0.03,0.18,0.03,0.02],
[0.02,0.05,0.1,0.15,0.06,0.03,0.02],
[0.02,0.08,0.05,0.03,0.02],
[0.02,0.05,0.13,0.04,0.02],
[0.02,0.1,0.03,0.02]
];
// ---------- colorbar ----------
const cbTicks=[2,4,6,8,10,12,14,16,18,20,22,24,26,28,30,32];
const hourLabels=["00","01","02","03","04","05","06","07","08","09","10","11","12","13","14","15","16","17","18","19","20","21","22","23","00"];

const NS='http://www.w3.org/2000/svg';
const svg=document.getElementById('fig');
const X0=190,X1=1713;
function xS(t){return X0+t*(X1-X0)/24;}
function jet(p){const v=(p-1)/31;const c=x=>Math.round(255*Math.max(0,Math.min(1,x)));
 return 'rgb('+c(1.5-Math.abs(4*v-3))+','+c(1.5-Math.abs(4*v-2))+','+c(1.5-Math.abs(4*v-1))+')';}
function interp(kv,kp){return function(v){for(let i=0;i<kv.length-1;i++){if(v<=kv[i+1]||i===kv.length-2){const f=(v-kv[i])/(kv[i+1]-kv[i]);return kp[i]+f*(kp[i+1]-kp[i]);}}};}
function mk(tag,attrs,parent){const e=document.createElementNS(NS,tag);for(const k in attrs)e.setAttribute(k,attrs[k]);(parent||svg).appendChild(e);return e;}

const panels=[
 {key:'vtec',top:133,bot:384,y:v=>384-v*(251/15),labels:[0,5,10,15],minor:[1,2,3,4,6,7,8,9,11,12,13,14],prn:vtecPrn,t0:vtecT0,dt:vtecDt,vals:vtecVals},
 {key:'rot',top:387,bot:637,y:v=>515-v*23,labels:[-4,-2,0,2,4],minor:[-5,-3,-1,1,3,5],prn:rotPrn,t0:rotT0,dt:rotDt,vals:rotVals},
 {key:'s4',top:641,bot:890,y:interp([0,0.1,0.2,0.4,0.61],[890,855,809,727,641]),labels:[0,0.1,0.2,0.4],minor:[0.05,0.15,0.25,0.3,0.35,0.45,0.5,0.55,0.6],prn:s4Prn,t0:s4T0,dt:s4Dt,vals:s4Vals},
 {key:'sigma',top:897,bot:1147,y:interp([0,0.1,0.2,0.4,0.6,0.8,1.0],[1147,1120,1096,1046,997,947,897]),labels:[0,0.1,0.2,0.4,0.6,0.8],minor:[0.05,0.15,0.3,0.5,0.7,0.9],prn:sigPrn,t0:sigT0,dt:sigDt,vals:sigVals}
];
const defs=mk('defs',{});
panels.forEach((P,pi)=>{
 const g=mk('g',{});
 
 
 const cp=mk('clipPath',{id:'clip'+pi},defs);
 mk('rect',{x:X0,y:P.top,width:X1-X0,height:P.bot-P.top},cp);
 for(let h=1;h<24;h++){const l=mk('line',{x1:xS(h),x2:xS(h),y1:P.top,y2:P.bot,stroke:'#d9d9d9','stroke-width':2.5},g);
  
  }
 P.labels.forEach(v=>{const y=P.y(v);if(y>P.top+2&&y<P.bot-2){const l=mk('line',{x1:X0,x2:X1,y1:y,y2:y,stroke:'#d9d9d9','stroke-width':2.5},g);
  
  }});
 const sg=mk('g',{'clip-path':'url(#clip'+pi+')'},g);
 
 
 P.vals.forEach((arr,i)=>{let d='';arr.forEach((v,j)=>{d+=(j?'L':'M')+xS(P.t0[i]+j*P.dt[i]).toFixed(1)+','+P.y(v).toFixed(1);});
  const p=mk('path',{d:d,fill:'none',stroke:jet(P.prn[i]),'stroke-width':2.6,'stroke-linejoin':'round'},sg);
  
  });
 const tk=mk('g',{stroke:'#262626','stroke-width':3},g);
 
 
 for(let m=0;m<=120;m++){const x=xS(m/5);const L=(m%5===0)?13:7;
  mk('line',{x1:x,x2:x,y1:P.top,y2:P.top+L},tk);mk('line',{x1:x,x2:x,y1:P.bot,y2:P.bot-L},tk);}
 P.labels.forEach(v=>{const y=P.y(v);mk('line',{x1:X0,x2:X0+13,y1:y,y2:y},tk);mk('line',{x1:X1,x2:X1-13,y1:y,y2:y},tk);
  const t=mk('text',{x:180,y:y+10,'text-anchor':'end','font-size':27},g);t.textContent=String(v);
  
  });
 P.minor.forEach(v=>{const y=P.y(v);if(y>=P.top&&y<=P.bot){mk('line',{x1:X0,x2:X0+7,y1:y,y2:y},tk);mk('line',{x1:X1,x2:X1-7,y1:y,y2:y},tk);}});
 const fr=mk('rect',{x:X0,y:P.top,width:X1-X0,height:P.bot-P.top,fill:'none',stroke:'#262626','stroke-width':3.5},g);
 
 
});
hourLabels.forEach((s,h)=>{const t=mk('text',{x:xS(h),y:1185,'text-anchor':'middle','font-size':27});t.textContent=s;
 
 });
const CB0=254,CB1=1022,CBX=1732,CBW=22;
const cb=mk('g',{});


for(let i=1;i<=32;i++){const h=(CB1-CB0)/32;const r=mk('rect',{x:CBX,y:CB1-i*h,width:CBW,height:h+0.6,fill:jet(i)},cb);
 
 }
mk('rect',{x:CBX,y:CB0,width:CBW,height:CB1-CB0,fill:'none',stroke:'#262626','stroke-width':1.5},cb);
const cbY=v=>CB1-(v-1)*(CB1-CB0)/31;
cbTicks.forEach(v=>{const y=cbY(v);mk('line',{x1:CBX+CBW-5,x2:CBX+CBW,y1:y,y2:y,stroke:'#262626','stroke-width':1.2},cb);
 const t=mk('text',{x:1766,y:y+10,'font-size':27},cb);t.textContent=String(v);
 
 });
</script>
</body></html>
